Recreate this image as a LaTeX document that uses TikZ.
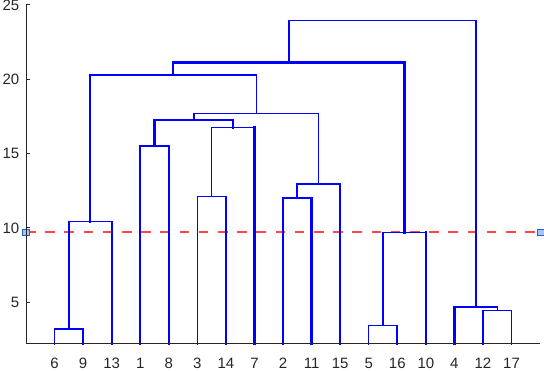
\documentclass[tikz,border=0pt]{standalone}
\usepackage{fontspec}
\setmainfont{Liberation Sans}
\definecolor{axc}{RGB}{38,38,38}
\definecolor{dblue}{RGB}{0,0,255}
\definecolor{cutred}{RGB}{255,70,70}
\definecolor{mkfill}{RGB}{170,196,240}
\definecolor{mkdraw}{RGB}{40,90,220}
\newcommand\dlink[8]{%
  \draw[#6] (#1,#2) -- (#1,#5);
  \draw[#7] (#1,#5) -- (#3,#5);
  \draw[#8] (#3,#4) -- (#3,#5);
}
\begin{document}
\begin{tikzpicture}[x=28.56pt,y=14.87pt,
  lnk/.style={dblue,line width=1.4pt,line cap=rect},
  lnkb/.style={dblue,line width=2.3pt,line cap=rect},
  ax/.style={axc,line width=0.8pt},
  lbl/.style={text=axc,font=\fontsize{15}{16}\selectfont,inner sep=0pt},
  cutline/.style={cutred,line width=1.8pt,dash pattern=on 9.5pt off 9.7pt},
  marker/.style={rectangle,minimum size=6.5pt,inner sep=0pt,fill=mkfill,draw=mkdraw,line width=0.8pt}]
\path[use as bounding box] (-0.9104,0.4438) rectangle (18.1373,25.3262);
% cut-off line
\coordinate (cL) at (0,9.70);
\coordinate (cR) at (18.032,9.70);
\draw[cutline] (cL) -- (cR);
% dendrogram links
\dlink{1}{2.2}{2}{2.2}{3.2}{lnk}{lnk}{lnk}
\dlink{1.5}{3.2}{3}{2.2}{10.42}{lnk}{lnk}{lnkb}
\dlink{4}{2.2}{5}{2.2}{15.49}{lnkb}{lnkb}{lnkb}
\dlink{6}{2.2}{7}{2.2}{12.1}{lnk}{lnk}{lnk}
\dlink{6.5}{12.1}{8}{2.2}{16.76}{lnk}{lnk}{lnkb}
\dlink{4.5}{15.49}{7.25}{16.76}{17.26}{lnkb}{lnkb}{lnkb}
\dlink{9}{2.2}{10}{2.2}{12.01}{lnkb}{lnkb}{lnkb}
\dlink{9.5}{12.01}{11}{2.2}{12.95}{lnkb}{lnkb}{lnkb}
\dlink{5.875}{17.26}{10.25}{12.95}{17.68}{lnkb}{lnk}{lnk}
\dlink{2.25}{10.42}{8.0625}{17.68}{20.26}{lnkb}{lnkb}{lnk}
\dlink{12}{2.2}{13}{2.2}{3.42}{lnk}{lnk}{lnkb}
\dlink{12.5}{3.42}{14}{2.2}{9.70}{lnk}{lnk}{lnkb}
\dlink{5.15625}{20.26}{13.25}{9.70}{21.13}{lnkb}{lnkb}{lnkb}
\dlink{16}{2.2}{17}{2.2}{4.43}{lnkb}{lnk}{lnk}
\dlink{15}{2.2}{16.5}{4.43}{4.66}{lnkb}{lnkb}{lnk}
\dlink{9.203125}{21.13}{15.75}{4.66}{23.93}{lnk}{lnk}{lnk}
% markers of the cut-off line
\node[marker] (mL) at (cL) {};
\node[marker] (mR) at (cR) {};
% axes
\draw[ax] (0,25) -- (0,2.2) -- (18,2.2);
\foreach \v in {5,10,15,20,25}{
  \draw[ax] (0,\v) -- ++(4pt,0);
  \node[lbl,anchor=east,xshift=-6.5pt] (y\v) at (0,\v) {\v};
}
% leaf labels
\foreach \lab [count=\i] in {6,9,13,1,8,3,14,7,2,11,15,5,16,10,4,12,17}{
  \node[lbl] (t\lab) at (\i,0.915) {\lab};
}
\end{tikzpicture}
\end{document}
